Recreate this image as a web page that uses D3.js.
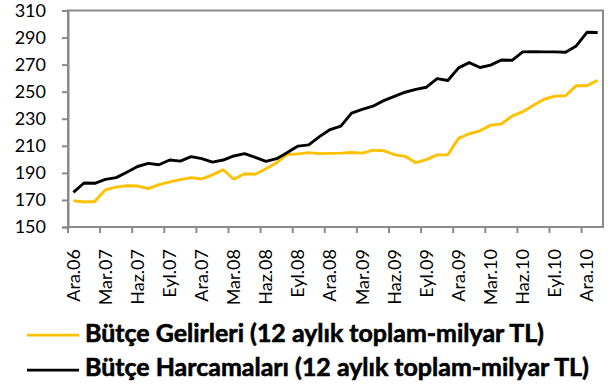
<!DOCTYPE html>
<html>
<head>
<meta charset="utf-8">
<script src="https://cdn.jsdelivr.net/npm/d3@7"></script>
<style>
  html, body { margin: 0; padding: 0; background: #fff; }
  svg { display: block; }
  text { font-family: Lato, "Noto Sans", sans-serif; fill: #000; }
</style>
</head>
<body>
<svg id="chart" width="608" height="387"></svg>
<script>
// Monthly categories, Dec 2006 – Jan 2011
const months = [
  "Ara.06",
  "Oca.07","Şub.07","Mar.07","Nis.07","May.07","Haz.07","Tem.07","Ağu.07","Eyl.07","Eki.07","Kas.07","Ara.07",
  "Oca.08","Şub.08","Mar.08","Nis.08","May.08","Haz.08","Tem.08","Ağu.08","Eyl.08","Eki.08","Kas.08","Ara.08",
  "Oca.09","Şub.09","Mar.09","Nis.09","May.09","Haz.09","Tem.09","Ağu.09","Eyl.09","Eki.09","Kas.09","Ara.09",
  "Oca.10","Şub.10","Mar.10","Nis.10","May.10","Haz.10","Tem.10","Ağu.10","Eyl.10","Eki.10","Kas.10","Ara.10",
  "Oca.11"
];

// Budget revenues, 12-month total (billion TL)
const revenues = [
  169.5, 168.5, 168.8, 177.5, 179.5, 180.5, 180.3, 178.3, 181.3, 183.3, 185.0, 186.5, 185.5,
  188.5, 192.3, 185.3, 189.3, 189.0, 193.0, 197.5, 203.8, 204.0, 205.0, 204.2, 204.4,
  204.6, 205.1, 204.6, 206.8, 206.4, 203.4, 202.2, 197.5, 199.8, 203.3, 203.4, 215.5,
  218.9, 221.1, 225.3, 226.1, 232.0, 235.2, 240.0, 244.4, 246.7, 247.0, 254.5, 254.4,
  258.5
];

// Budget expenditures, 12-month total (billion TL)
const expenditures = [
  175.6, 182.5, 182.3, 185.2, 186.5, 190.5, 194.7, 197.0, 196.0, 199.5, 198.7, 202.0, 200.5,
  198.0, 199.5, 202.5, 204.2, 201.5, 198.5, 200.5, 205.0, 209.8, 210.7, 216.8, 222.0,
  224.6, 234.2, 236.9, 239.3, 243.4, 246.6, 249.6, 251.7, 253.3, 259.7, 258.3, 267.6,
  271.5, 267.9, 269.6, 273.4, 273.2, 279.4, 279.6, 279.4, 279.4, 279.2, 283.8, 293.9,
  293.7
];

const yTicks = [150, 170, 190, 210, 230, 250, 270, 290, 310];
const xTickLabels = months.filter((m, i) => i % 3 === 0);

const seriesNames = [
  "Bütçe Gelirleri (12 aylık toplam-milyar TL)",
  "Bütçe Harcamaları (12 aylık toplam-milyar TL)"
];
const seriesColors = ["#FFC000", "#000000"];

const svg = d3.select("#chart");
const plot = { left: 68, right: 603, top: 10.5, bottom: 227 };
const axisColor = "#8a8a8a";

const x = d3.scaleBand().domain(months).range([plot.left, plot.right]).padding(0);
const y = d3.scaleLinear().domain([150, 310]).range([plot.bottom, plot.top]);
const cx = m => x(m) + x.bandwidth() / 2;

// Plot area frame
svg.append("rect")
  .attr("x", plot.left).attr("y", plot.top)
  .attr("width", plot.right - plot.left).attr("height", plot.bottom - plot.top)
  .attr("fill", "none").attr("stroke", axisColor).attr("stroke-width", 2);

// Y axis
const yAxis = svg.append("g")
  .attr("transform", `translate(${plot.left},0)`)
  .call(d3.axisLeft(y).tickValues(yTicks).tickSize(6).tickPadding(16).tickFormat(d3.format("d")));
yAxis.select(".domain").attr("stroke", axisColor).attr("stroke-width", 2);
yAxis.selectAll(".tick line").attr("stroke", axisColor).attr("stroke-width", 2);
yAxis.selectAll(".tick text").style("font-size", "18px").attr("fill", "#000");

// X axis: tick marks between category groups, labels centred on categories
const xAxis = svg.append("g");
xAxis.append("line")
  .attr("x1", plot.left).attr("x2", plot.right)
  .attr("y1", plot.bottom).attr("y2", plot.bottom)
  .attr("stroke", axisColor).attr("stroke-width", 2);
xAxis.selectAll("line.tick")
  .data(xTickLabels)
  .join("line")
  .attr("class", "tick")
  .attr("x1", d => x(d)).attr("x2", d => x(d))
  .attr("y1", plot.bottom).attr("y2", plot.bottom + 6)
  .attr("stroke", axisColor).attr("stroke-width", 2);
xAxis.selectAll("text")
  .data(xTickLabels)
  .join("text")
  .attr("transform", d => `translate(${cx(d)},${plot.bottom + 22}) rotate(-90)`)
  .attr("text-anchor", "end")
  .attr("dy", "0.35em")
  .style("font-size", "18px")
  .text(d => d);

// Series lines
const line = d3.line()
  .x((d, i) => cx(months[i]))
  .y(d => y(d));

[revenues, expenditures].forEach((vals, k) => {
  svg.append("path")
    .datum(vals)
    .attr("fill", "none")
    .attr("stroke", seriesColors[k])
    .attr("stroke-width", 2.9)
    .attr("stroke-linejoin", "round")
    .attr("d", line);
});

// Legend
const legend = svg.append("g");
const legendRows = [
  { lineY: 335, baseY: 342 },
  { lineY: 370, baseY: 376 }
];
seriesNames.forEach((name, k) => {
  legend.append("line")
    .attr("x1", 27).attr("x2", 79)
    .attr("y1", legendRows[k].lineY).attr("y2", legendRows[k].lineY)
    .attr("stroke", seriesColors[k]).attr("stroke-width", 2.75);
  legend.append("text")
    .attr("class", "legend-label")
    .attr("x", 85).attr("y", legendRows[k].baseY)
    .style("font-size", "21px")
    .style("font-weight", "700")
    .attr("stroke", "#000")
    .attr("stroke-width", 0.6)
    .text(name);
});

// Size legend text so the longer entry ends just short of the right edge
const longest = legend.selectAll("text.legend-label").nodes()[1];
const w = longest.getComputedTextLength();
const targetW = 504;
const fs = 21 * targetW / w;
legend.selectAll("text.legend-label").style("font-size", fs.toFixed(2) + "px");
</script>
</body>
</html>
